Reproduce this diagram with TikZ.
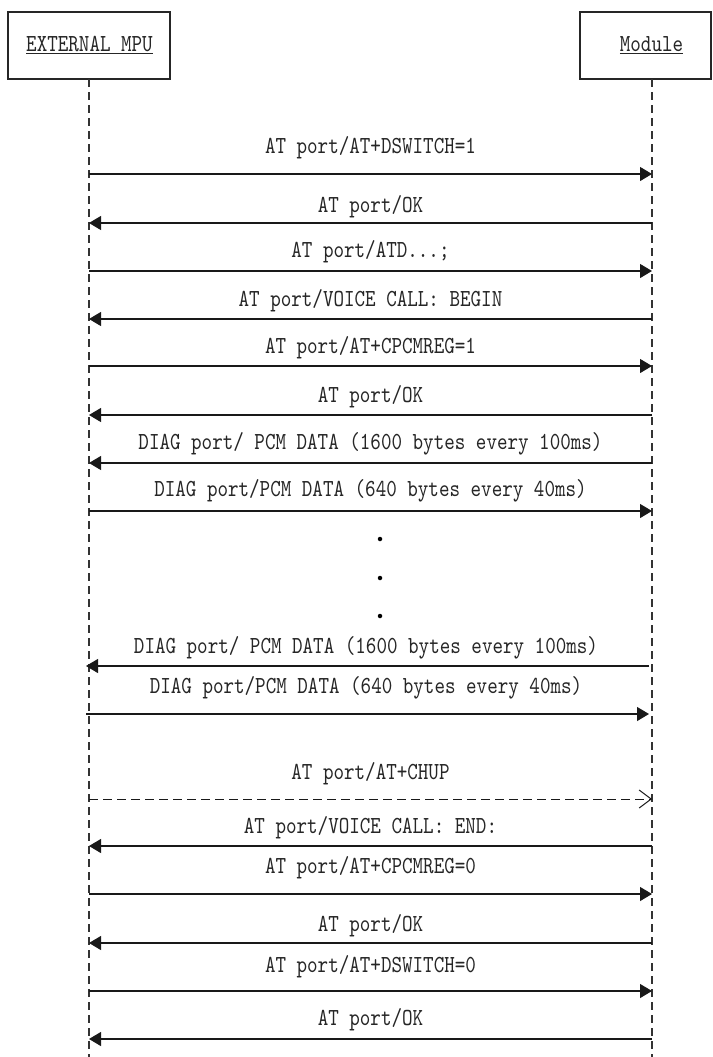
\documentclass[tikz,border=0pt]{standalone}
\usepackage{fontspec}
\setmonofont{lmmono10-regular.otf}[FakeStretch=0.82]
\usetikzlibrary{arrows.meta, positioning}

\begin{document}
\begin{tikzpicture}[x=1pt, y=-1pt,
  actor/.style={draw=black!85, line width=1.1pt, minimum height=67pt, inner sep=0pt},
  lifeline/.style={draw=black!80, line width=1.1pt, dash pattern=on 8pt off 5pt},
  msg/.style={draw=black!90, line width=1.1pt, -{Triangle[length=12pt, width=14pt]}},
  async/.style={draw=black!90, line width=1pt, dash pattern=on 9pt off 5pt,
                -{Straight Barb[length=12pt, width=18pt]}},
  lbl/.style={font=\ttfamily\fontsize{24.5}{28}\selectfont, text=black!85, inner sep=0pt, anchor=base},
  dotmark/.style={circle, fill=black, inner sep=0pt, minimum size=4.5pt}]

\fill[white] (0,0) rectangle (712,1057);
\useasboundingbox (0,0) rectangle (712,1057);

% === Actors ===
\node[actor, minimum width=162pt] (mpu) at (89,45.5) {};
\node[lbl] (mputxt) at (89.5,52) {\underline{EXTERNAL MPU}};
\node[actor, minimum width=131pt] (mod) at (645.5,45.5) {};
\node[lbl] (modtxt) at (651.5,52) {\underline{Module}};

% Lifelines
\coordinate (mputop) at (89,79);
\coordinate (mpuend) at (89,1057);
\coordinate (modtop) at (652,79);
\coordinate (modend) at (652,1057);
\draw[lifeline] (mputop) -- (mpuend);
\draw[lifeline] (modtop) -- (modend);

% === Call setup ===
\path (89,174) coordinate (a1) (652,174) coordinate (b1);
\node[lbl] (t1) at (370.5,153) {AT port/AT+DSWITCH=1};
\draw[msg] (a1) -- (b1);

\path (89,223) coordinate (a2) (652,223) coordinate (b2);
\node[lbl] (t2) at (370.5,212) {AT port/OK};
\draw[msg] (b2) -- (a2);

\path (89,271) coordinate (a3) (652,271) coordinate (b3);
\node[lbl] (t3) at (370.5,257) {AT port/ATD...;};
\draw[msg] (a3) -- (b3);

\path (89,319) coordinate (a4) (652,319) coordinate (b4);
\node[lbl] (t4) at (370.5,306) {AT port/VOICE CALL: BEGIN};
\draw[msg] (b4) -- (a4);

\path (89,366) coordinate (a5) (652,366) coordinate (b5);
\node[lbl] (t5) at (370.5,353) {AT port/AT+CPCMREG=1};
\draw[msg] (a5) -- (b5);

\path (89,415) coordinate (a6) (652,415) coordinate (b6);
\node[lbl] (t6) at (370.5,402) {AT port/OK};
\draw[msg] (b6) -- (a6);

% === PCM data exchange ===
\path (89,463) coordinate (a7) (652,463) coordinate (b7);
\node[lbl] (t7) at (370.5,449) {DIAG port/ PCM DATA (1600 bytes every 100ms)};
\draw[msg] (b7) -- (a7);

\path (89,511) coordinate (a8) (652,511) coordinate (b8);
\node[lbl] (t8) at (370.5,496) {DIAG port/PCM DATA (640 bytes every 40ms)};
\draw[msg] (a8) -- (b8);

\node[dotmark] (dot1) at (380,539) {};
\node[dotmark] (dot2) at (380,578) {};
\node[dotmark] (dot3) at (380,616) {};

\path (86,666) coordinate (a9) (649,666) coordinate (b9);
\node[lbl] (t9) at (366,653) {DIAG port/ PCM DATA (1600 bytes every 100ms)};
\draw[msg] (b9) -- (a9);

\path (86,714) coordinate (a10) (649,714) coordinate (b10);
\node[lbl] (t10) at (366,693) {DIAG port/PCM DATA (640 bytes every 40ms)};
\draw[msg] (a10) -- (b10);

% === Hang up ===
\path (89,799) coordinate (a11) (652,799) coordinate (b11);
\node[lbl] (t11) at (370.5,779) {AT port/AT+CHUP};
\draw[async] (a11) -- (b11);

\path (89,846) coordinate (a12) (652,846) coordinate (b12);
\node[lbl] (t12) at (370.5,833) {AT port/VOICE CALL: END:};
\draw[msg] (b12) -- (a12);

\path (89,894) coordinate (a13) (652,894) coordinate (b13);
\node[lbl] (t13) at (370.5,873) {AT port/AT+CPCMREG=0};
\draw[msg] (a13) -- (b13);

\path (89,943) coordinate (a14) (652,943) coordinate (b14);
\node[lbl] (t14) at (370.5,931) {AT port/OK};
\draw[msg] (b14) -- (a14);

\path (89,991) coordinate (a15) (652,991) coordinate (b15);
\node[lbl] (t15) at (370.5,972) {AT port/AT+DSWITCH=0};
\draw[msg] (a15) -- (b15);

\path (89,1039) coordinate (a16) (652,1039) coordinate (b16);
\node[lbl] (t16) at (370.5,1025) {AT port/OK};
\draw[msg] (b16) -- (a16);

\end{tikzpicture}
\end{document}
